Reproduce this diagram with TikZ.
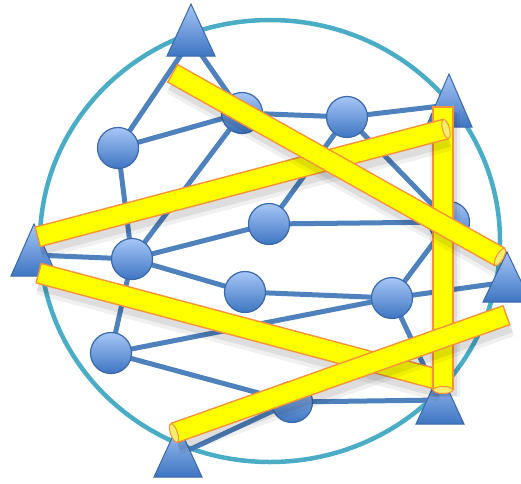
\documentclass[tikz,border=0pt]{standalone}
\usetikzlibrary{shapes.geometric,calc}
\definecolor{ringc}{HTML}{4BACC6}
\definecolor{edgec}{HTML}{4F81BD}
\definecolor{nodetop}{HTML}{A6C6F7}
\definecolor{nodebot}{HTML}{3E75C2}
\definecolor{nodeline}{HTML}{3A68A8}
\definecolor{baryel}{HTML}{FFFF00}
\definecolor{barorg}{HTML}{F7923A}
\definecolor{capyel}{HTML}{F5EE6E}
\tikzset{
  ring/.style={draw=ringc, line width=4.5pt},
  link/.style={draw=edgec, line width=5pt},
  dot/.style={circle, minimum size=41pt, inner sep=0pt, draw=nodeline, line width=1.2pt, top color=nodetop, bottom color=nodebot},
  tri/.style={draw=nodeline, line width=1pt, top color=nodetop, bottom color=nodebot},
  barshadowa/.style={line width=30pt, draw=black, opacity=0.06},
  barshadowb/.style={line width=24pt, draw=black, opacity=0.08},
  barrim/.style={line width=21.5pt, draw=barorg},
  barcore/.style={line width=18.5pt, draw=baryel, shorten <=1.5pt, shorten >=1.5pt},
  barcap/.style={ellipse, minimum width=7pt, minimum height=19.5pt, inner sep=0pt, draw=barorg, line width=1pt, fill=capyel},
}
\newcommand\yellowbar[2]{%
  \draw[barshadowa] ($(#1)+(2,7)$) -- ($(#2)+(2,7)$);
  \draw[barshadowb] ($(#1)+(2,6)$) -- ($(#2)+(2,6)$);
  \draw[barrim] (#1) -- (#2);
  \draw[barcore] (#1) -- (#2);
}
\begin{document}
\begin{tikzpicture}[x=1pt,y=-1pt]
\path[use as bounding box] (0,0) rectangle (521,483);

% outer ring
\coordinate (ctr) at (270,241);
\draw[ring] (ctr) ellipse [x radius=230, y radius=221];

% positions
\coordinate (T1) at (191,40);
\coordinate (T2) at (449,105);
\coordinate (T3) at (34,255);
\coordinate (T4) at (507,282);
\coordinate (T5) at (440,400);
\coordinate (T6) at (178,455);
\coordinate (A) at (118,148);
\coordinate (B) at (242,113);
\coordinate (C) at (347,117);
\coordinate (D) at (269,224);
\coordinate (E) at (132,259);
\coordinate (F) at (245,292);
\coordinate (G) at (111,353);
\coordinate (H) at (392,298);
\coordinate (I) at (292,402);
\coordinate (J) at (449,222);

% links
\draw[link] (T1) -- (A);
\draw[link] (T1) -- (B);
\draw[link] (A) -- (B);
\draw[link] (A) -- (E);
\draw[link] (B) -- (E);
\draw[link] (B) -- (C);
\draw[link] (C) -- (T2);
\draw[link] (C) -- (D);
\draw[link] (C) -- (J);
\draw[link] (D) -- (J);
\draw[link] (D) -- (E);
\draw[link] (E) -- (T3);
\draw[link] (E) -- (F);
\draw[link] (E) -- (G);
\draw[link] (F) -- (H);
\draw[link] (G) -- (H);
\draw[link] (G) -- (I);
\draw[link] (H) -- (J);
\draw[link] (H) -- (T4);
\draw[link] (H) -- (T5);
\draw[link] (I) -- (T5);
\draw[link] (I) -- (T6);

% triangles
\shade[tri] (191,4) -- (215,56) -- (167,56) -- cycle;
\shade[tri] (449,74) -- (472,127) -- (426,127) -- cycle;
\shade[tri] (34,224) -- (57,276) -- (11,276) -- cycle;
\shade[tri] (507,252) -- (531,302) -- (483,302) -- cycle;
\shade[tri] (440,372) -- (464,424) -- (416,424) -- cycle;
\shade[tri] (178,425) -- (202,477) -- (154,477) -- cycle;

% round nodes
\foreach \n in {A,B,C,D,E,F,G,H,I,J}
  \node[dot] (n\n) at (\n) {};

% yellow bars
\coordinate (b1s) at (172,73);  \coordinate (b1e) at (500,257);
\coordinate (b2s) at (37,237);  \coordinate (b2e) at (446,129);
\coordinate (b3s) at (443,106); \coordinate (b3e) at (443,390);
\coordinate (b4s) at (38,273);  \coordinate (b4e) at (440,380);
\coordinate (b5s) at (174,433); \coordinate (b5e) at (507,315);

\yellowbar{b4s}{b4e}
\yellowbar{b3s}{b3e}
\node[barcap, rotate=-90] (c3) at (b3e) {};
\yellowbar{b2s}{b2e}
\node[barcap, rotate=14.8] (c2) at (b2e) {};
\yellowbar{b1s}{b1e}
\node[barcap, rotate=-29.4] (c1) at (b1e) {};
\yellowbar{b5s}{b5e}
\node[barcap, rotate=19.5] (c5) at (b5s) {};
\end{tikzpicture}
\end{document}
